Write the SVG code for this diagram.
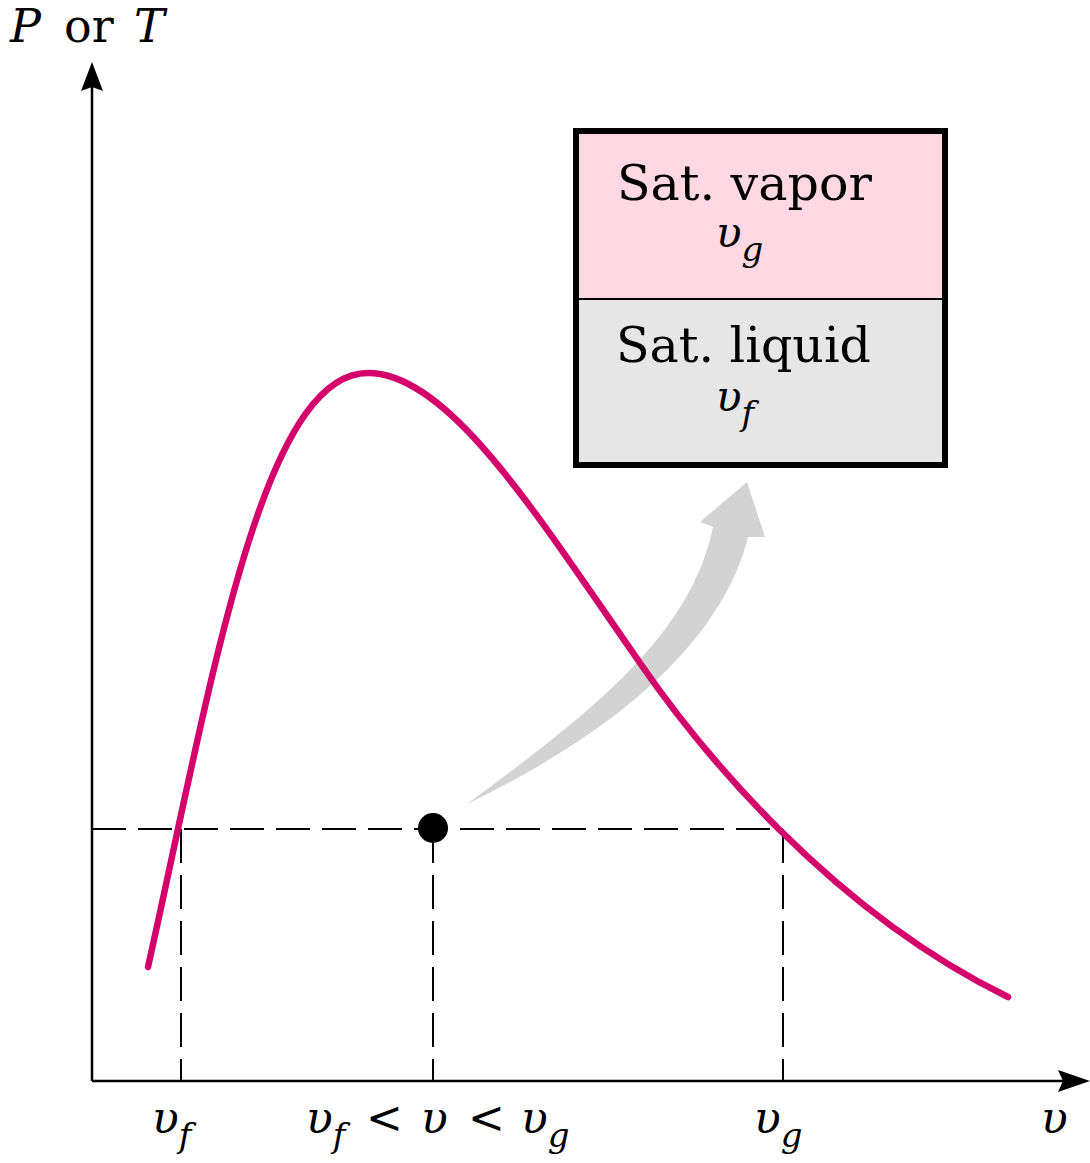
<svg xmlns="http://www.w3.org/2000/svg" width="1090" height="1163" viewBox="0 0 1090 1163">
<style>
.t{font-family:"DejaVu Serif","Liberation Serif",serif;fill:#000}
.i{font-style:italic}
.axis{stroke:#000;stroke-width:2.5;fill:none}
.dash{stroke:#000;stroke-width:2;stroke-dasharray:34 12;fill:none}
</style>
<rect width="1090" height="1163" fill="#fff"/>
<g id="axes">
<line class="axis" x1="92" y1="1081" x2="92" y2="80"/>
<line class="axis" x1="92" y1="1081" x2="1070" y2="1081"/>
<path d="M92,62 L103,91 L92,87 L81,91 Z" fill="#000"/>
<path d="M1090,1081 L1058,1092 L1063,1081 L1058,1070 Z" fill="#000"/>
<text class="t" font-size="46" y="42"><tspan class="i" x="10">P</tspan><tspan x="64">or</tspan><tspan class="i" x="134">T</tspan></text>
</g>
<g id="guides">
<line class="dash" x1="92" y1="829" x2="783" y2="829"/>
<line class="dash" x1="181" y1="829" x2="181" y2="1081"/>
<line class="dash" x1="433" y1="829" x2="433" y2="1081"/>
<line class="dash" x1="783" y1="829" x2="783" y2="1081"/>
</g>
<g id="arrow">
<path d="M467,804 C580,720 690,640 713,527 L700,522 L747,482 L765,537 L748,537 C720,650 600,740 467,804 Z" fill="#D3D3D3"/>
</g>
<g id="curve">
<path d="M148,967 C212,680 262,373 368,373 C450,373 540,520 640,663 C700,750 830,910 1008,997" fill="none" stroke="#D4006B" stroke-width="6.5" stroke-linecap="round"/>
</g>
<g id="state-point">
<circle cx="433" cy="828" r="15" fill="#000"/>
</g>
<g id="box">
<rect x="576" y="131" width="369" height="168" fill="#FDD8E2"/>
<rect x="576" y="299" width="369" height="166" fill="#E6E6E6"/>
<line x1="576" y1="299" x2="945" y2="299" stroke="#000" stroke-width="2"/>
<rect x="576" y="131" width="369" height="334" fill="none" stroke="#000" stroke-width="6"/>
<text class="t" font-size="49" x="617" y="200">Sat. vapor</text>
<text class="t i" font-size="42" x="716" y="247">υ<tspan font-size="34" dy="14">g</tspan></text>
<text class="t" font-size="49" x="616" y="362">Sat. liquid</text>
<text class="t i" font-size="42" x="716" y="411">υ<tspan font-size="34" dy="14">f</tspan></text>
</g>
<g id="labels">
<text class="t i" font-size="44" x="152" y="1133">υ<tspan font-size="34" dy="14">f</tspan></text>
<text class="t i" font-size="44" y="1133"><tspan x="306">υ</tspan><tspan font-size="34" dy="14">f</tspan><tspan x="366" dy="-14" font-style="normal">&lt;</tspan><tspan x="421">υ</tspan><tspan x="468" font-style="normal">&lt;</tspan><tspan x="521">υ</tspan><tspan font-size="34" dy="14">g</tspan></text>
<text class="t i" font-size="44" x="754" y="1133">υ<tspan font-size="34" dy="14">g</tspan></text>
<text class="t i" font-size="44" x="1041" y="1133">υ</text>
</g>
</svg>
